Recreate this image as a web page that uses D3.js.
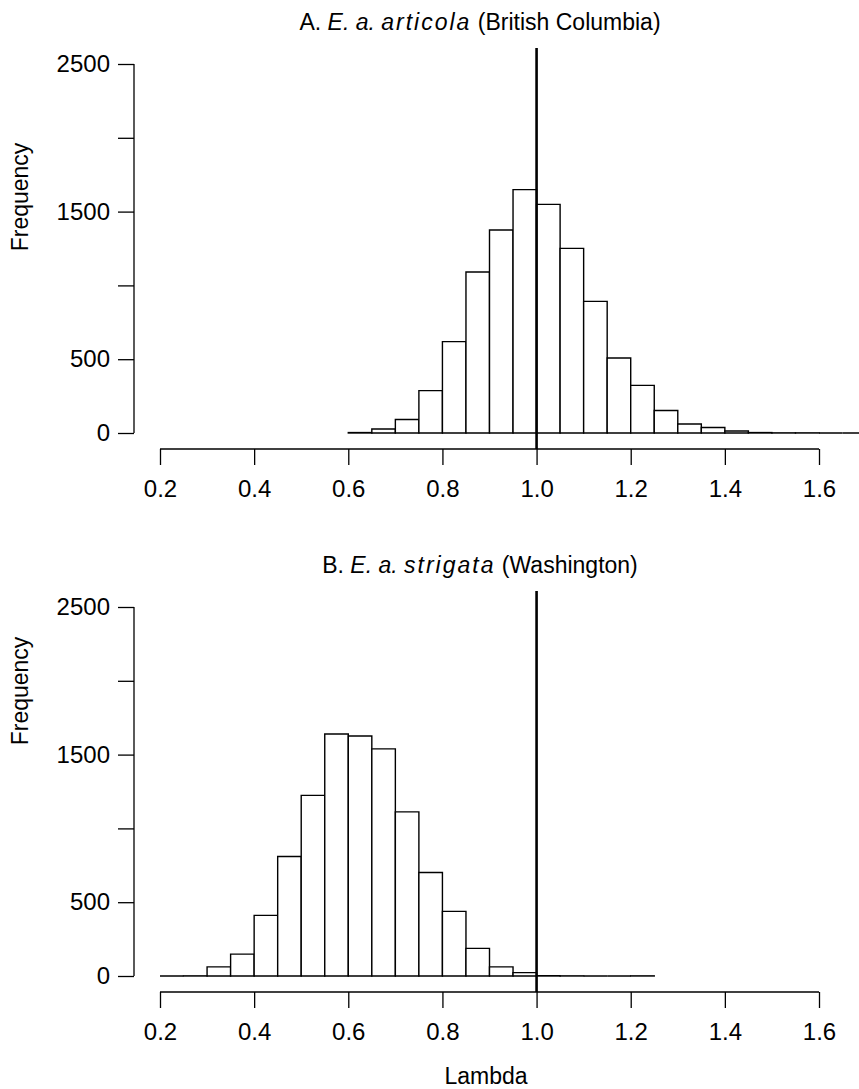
<!DOCTYPE html>
<html>
<head>
<meta charset="utf-8">
<script src="https://cdn.jsdelivr.net/npm/d3@7"></script>
<style>
  body { margin: 0; background: #fff; }
  svg text { font-family: "Liberation Sans", Arial, sans-serif; fill: #000; }
</style>
</head>
<body>
<svg id="hist-svg"></svg>
<script>
// histogram data: lower edge of each lambda bin (width 0.05) and counts
var binWidth = 0.05;
var breaksA = [0.60, 0.65, 0.70, 0.75, 0.80, 0.85, 0.90, 0.95, 1.00, 1.05, 1.10,
               1.15, 1.20, 1.25, 1.30, 1.35, 1.40, 1.45, 1.50, 1.55, 1.60, 1.65, 1.70, 1.75];
var countsA = [3, 27, 91, 287, 619, 1091, 1375, 1649, 1549, 1251, 892,
               508, 323, 152, 61, 37, 14, 3, 1, 1, 0, 0, 0, 0];
var breaksB = [0.20, 0.25, 0.30, 0.35, 0.40, 0.45, 0.50, 0.55, 0.60, 0.65, 0.70,
               0.75, 0.80, 0.85, 0.90, 0.95, 1.00, 1.05, 1.10, 1.15, 1.20];
var countsB = [0, 1, 62, 148, 411, 810, 1224, 1640, 1626, 1539, 1112,
               701, 438, 187, 62, 23, 2, 1, 0, 0, 1];
var xTicks = [0.2, 0.4, 0.6, 0.8, 1.0, 1.2, 1.4, 1.6];
var yTicks = [0, 500, 1000, 1500, 2000, 2500];
var yLabelShown = {0: "0", 500: "500", 1500: "1500", 2500: "2500"};
var refLambda = 1.0;

const W = 859, H = 1089;
var svg = d3.select("#hist-svg").attr("width", W).attr("height", H);

// x scale is shared by both panels
var x = d3.scaleLinear().domain([0.2, 1.6]).range([160, 819]);

function drawPanel(top, breaks, counts, prefix, species, place, ylabY) {
  var g = svg.append("g").attr("transform", "translate(0," + top + ")");

  var y = d3.scaleLinear().domain([0, 2500]).range([433, 64]);

  // title
  var t = g.append("text")
    .attr("x", 480).attr("y", 30)
    .attr("text-anchor", "middle")
    .style("font-size", "23px");
  t.append("tspan").text(prefix + " ");
  t.append("tspan").style("font-style", "italic").text("E. a. ");
  t.append("tspan").style("font-style", "italic").style("letter-spacing", "2px").text(species);
  t.append("tspan").text(" (" + place + ")");

  // bars as paths so that empty bins still show as a line
  g.selectAll("path.bar")
    .data(breaks.map(function(b, i) { return {x0: b, n: counts[i]}; }))
    .enter()
    .append("path")
      .attr("class", "bar")
      .attr("d", function(d) {
        var x0 = x(d.x0), x1 = x(d.x0 + binWidth);
        return "M" + x0 + "," + y(0) + "V" + y(d.n) + "H" + x1 + "V" + y(0) + "Z";
      })
      .attr("fill", "#fff")
      .attr("stroke", "#000")
      .attr("stroke-width", 1.4);

  // reference line at lambda = 1
  g.append("line")
    .attr("x1", x(refLambda)).attr("x2", x(refLambda))
    .attr("y1", 48).attr("y2", 449)
    .attr("stroke", "#000").attr("stroke-width", 2.6);

  // y axis, R style
  var yAxis = g.append("g")
    .attr("transform", "translate(134,0)")
    .call(d3.axisLeft(y).tickValues(yTicks).tickSize(16).tickPadding(8)
      .tickFormat(function(d) { return yLabelShown[d] || ""; }));
  yAxis.select(".domain").attr("d", "M0," + y(0) + "V" + y(2500));
  yAxis.selectAll("line").attr("stroke-width", 1.3);
  yAxis.selectAll("path").attr("stroke-width", 1.3);
  yAxis.selectAll("text").style("font-size", "24px").attr("font-family", "Liberation Sans, Arial, sans-serif");

  // x axis
  var xAxis = g.append("g")
    .attr("transform", "translate(0,449)")
    .call(d3.axisBottom(x).tickValues(xTicks).tickSize(16).tickPadding(15)
      .tickFormat(d3.format(".1f")));
  xAxis.select(".domain").attr("d", "M" + x(0.2) + ",0H" + x(1.6));
  xAxis.selectAll("line").attr("stroke-width", 1.3);
  xAxis.selectAll("path").attr("stroke-width", 1.3);
  xAxis.selectAll("text").style("font-size", "24px").attr("font-family", "Liberation Sans, Arial, sans-serif");

  // y label
  g.append("text")
    .attr("transform", "translate(28," + ylabY + ")rotate(-90)")
    .attr("text-anchor", "middle")
    .style("font-size", "23px")
    .text("Frequency");
  return g;
}

drawPanel(0, breaksA, countsA, "A.", "articola", "British Columbia", 197);
drawPanel(543, breaksB, countsB, "B.", "strigata", "Washington", 148);

svg.append("text")
  .attr("x", 486).attr("y", 1084)
  .attr("text-anchor", "middle")
  .style("font-size", "23px")
  .text("Lambda");
</script>
</body>
</html>
